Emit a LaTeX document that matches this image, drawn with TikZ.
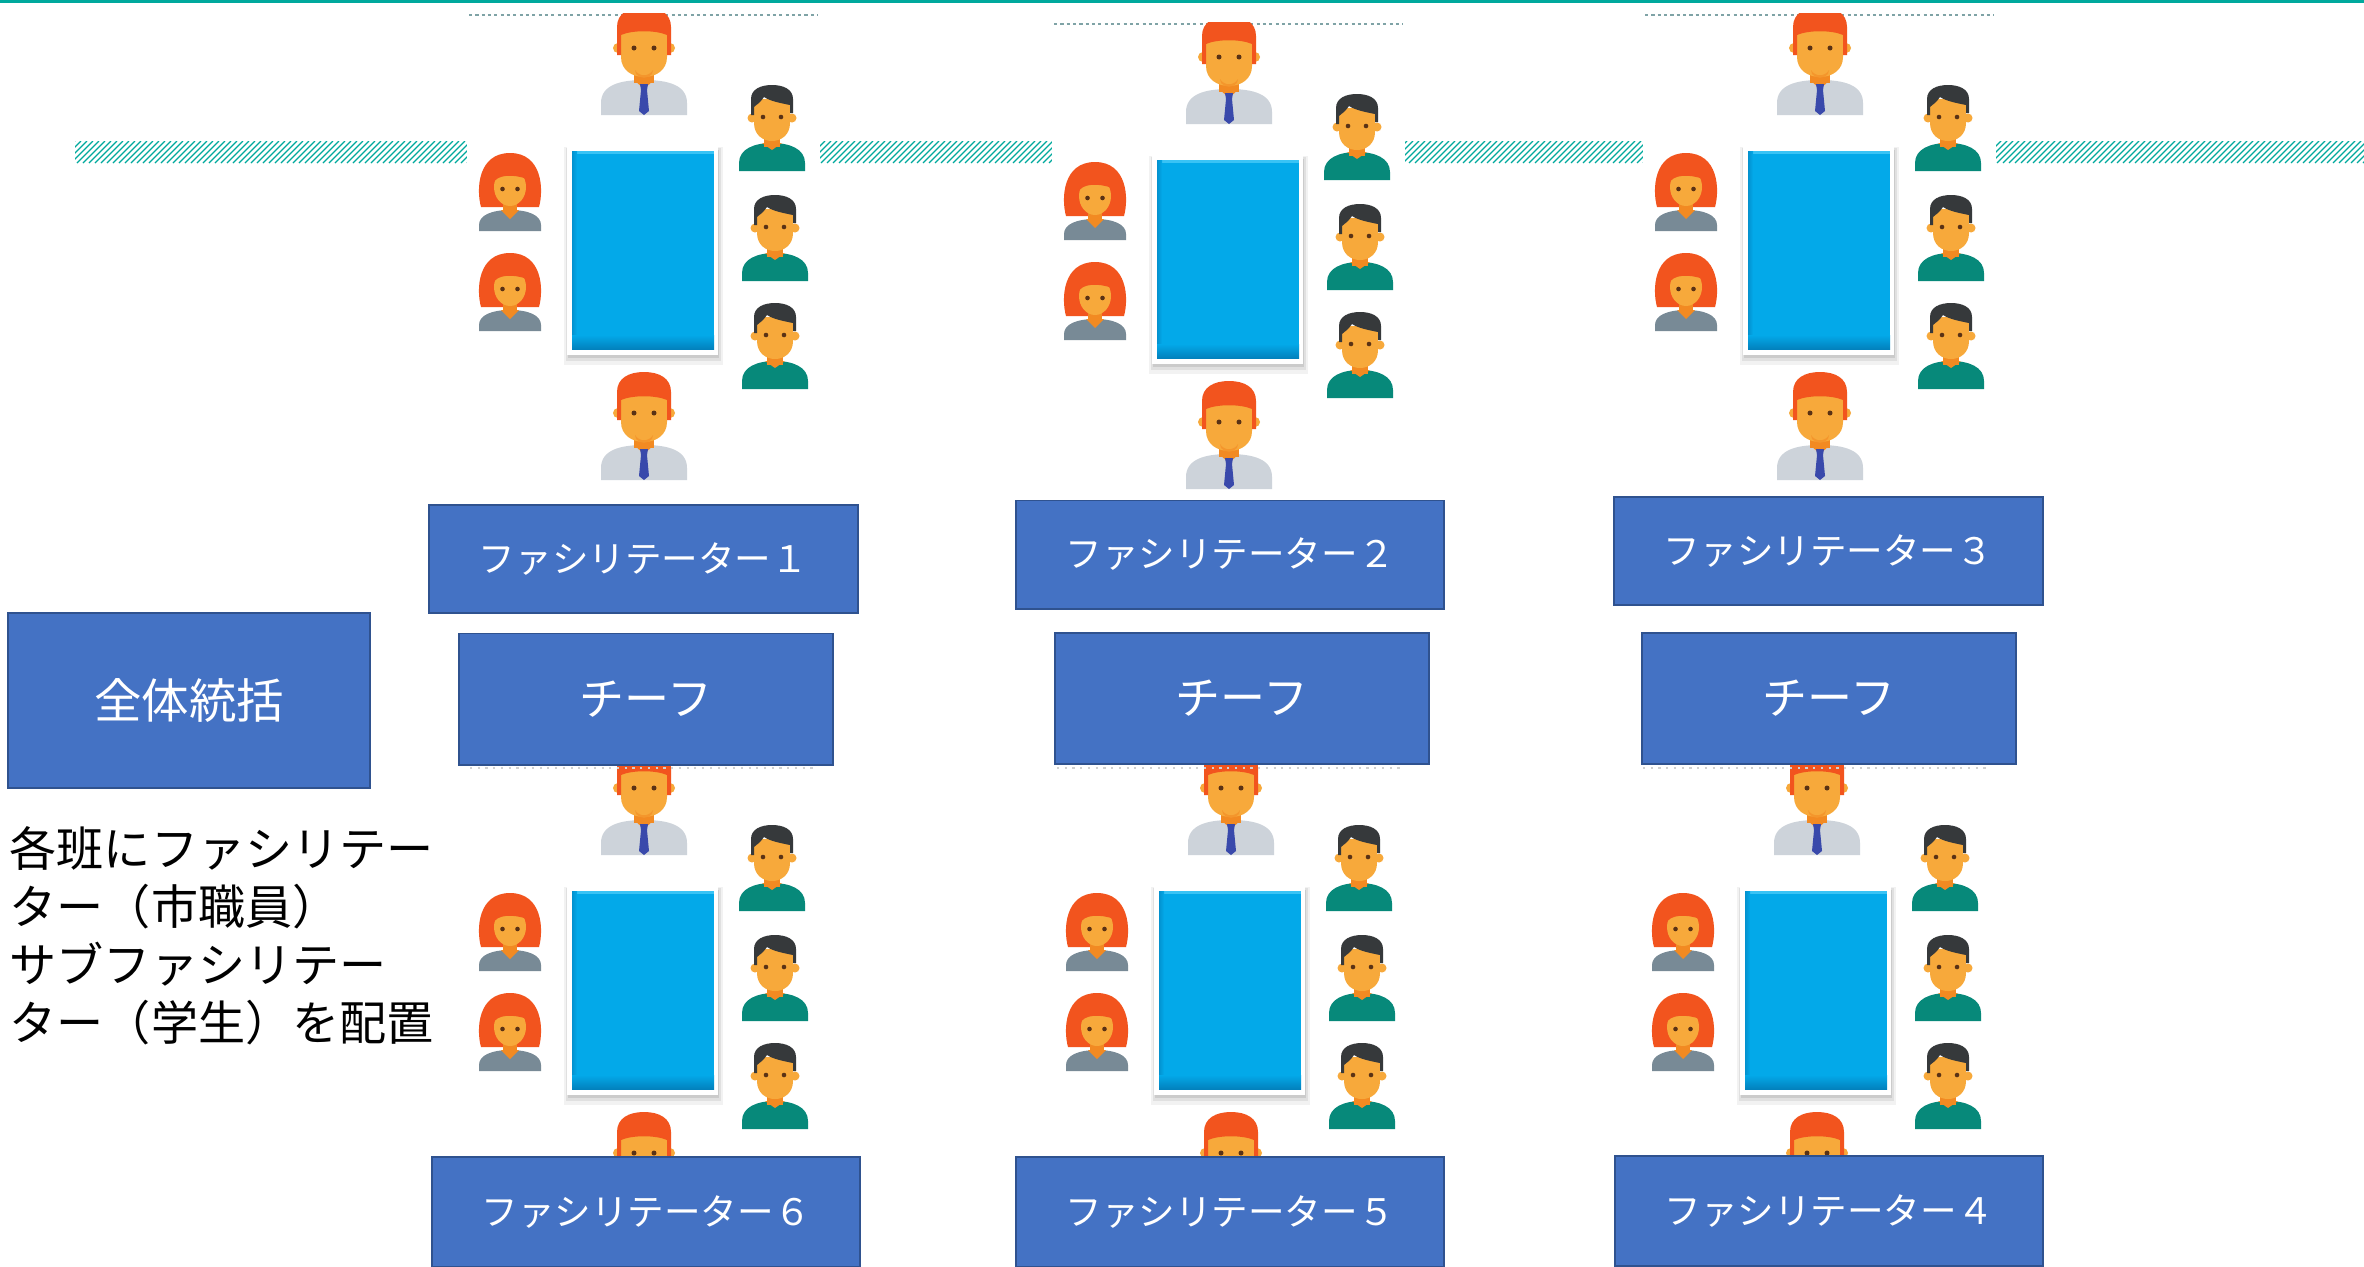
\documentclass[tikz,border=0pt]{standalone}
\usepackage{fontspec}
\setmainfont{Noto Sans CJK JP}
\definecolor{teal1}{HTML}{00A99D}
\definecolor{boxblue}{HTML}{4472C4}
\definecolor{boxedge}{HTML}{2F528F}
\definecolor{tableblue}{HTML}{03A9E9}
\definecolor{tabledark}{HTML}{0281BD}
\definecolor{tablelight}{HTML}{39C3F5}
\definecolor{skin}{HTML}{F7A93B}
\definecolor{skindark}{HTML}{F28A22}
\definecolor{hairred}{HTML}{F2541E}
\definecolor{shirt}{HTML}{CDD3DA}
\definecolor{tiecol}{HTML}{3949AB}
\definecolor{gown}{HTML}{788A96}
\definecolor{tealshirt}{HTML}{07897A}
\definecolor{darkhair}{HTML}{36393B}
\definecolor{eyecol}{HTML}{5A3215}
\definecolor{dashgray}{HTML}{7FA3A6}
\tikzset{
  hatchline/.style={teal1, line width=0.38pt},
  imgedge/.style={dashgray, line width=0.45pt, dash pattern=on 0.9pt off 0.9pt},
  imgedgefaint/.style={black!18, line width=0.4pt, dash pattern=on 0.6pt off 1.6pt},
  orgbox/.style={rectangle, fill=boxblue, draw=boxedge, line width=0.55pt,
    text=white, inner sep=0pt},
  facbox/.style={orgbox, minimum width=4.28cm, minimum height=1.08cm,
    font=\fontsize{10.4pt}{12pt}\selectfont},
  chiefbox/.style={orgbox, minimum width=3.74cm, minimum height=1.31cm,
    font=\fontsize{12.8pt}{15pt}\selectfont},
  % seated man with tie (facilitator)
  man/.pic={
    \fill[shirt] (-43,108) -- (-43,96) .. controls (-43,78) and (-24,73) .. (0,73)
      .. controls (24,73) and (43,78) .. (43,96) -- (43,108) -- cycle;
    \fill[skindark] (-10,55) rectangle (10,76);
    \fill[skindark] (-10,73) -- (0,82) -- (10,73) -- cycle;
    \fill[tiecol] (-4,77) -- (4,77) -- (3,83) -- (5,104) -- (0,108) -- (-5,104) -- (-3,83) -- cycle;
    \fill[skin] (-26,41) ellipse (5 and 5);
    \fill[skin] (26,41) ellipse (5 and 5);
    \fill[skin] (-23,22) -- (-23,50) .. controls (-23,63) and (-12,70) .. (0,70)
      .. controls (12,70) and (23,63) .. (23,50) -- (23,22) -- cycle;
    \fill[skindark!60!skin] (-9,63) .. controls (-5,70) and (5,70) .. (9,63)
      -- (8,67) .. controls (4,72) and (-4,72) .. (-8,67) -- cycle;
    \fill[hairred] (-27,48) -- (-27,20) .. controls (-27,6) and (-15,0) .. (0,0)
      .. controls (15,0) and (27,6) .. (27,20) -- (27,48) -- (23,48) -- (23,28)
      .. controls (12,23) and (-12,23) .. (-23,28) -- (-23,48) -- cycle;
    \fill[eyecol] (-10,41) ellipse (2.5 and 2.5);
    \fill[eyecol] (10,41) ellipse (2.5 and 2.5);
  },
  % woman with bob hair
  woman/.pic={
    \fill[hairred] (-29,54) .. controls (-34,36) and (-32,0) .. (0,0)
      .. controls (32,0) and (34,36) .. (29,54) -- cycle;
    \fill[skindark] (-7,44) rectangle (7,62);
    \fill[gown] (-31,78) -- (-31,72) .. controls (-31,62) and (-18,57) .. (0,57)
      .. controls (18,57) and (31,62) .. (31,72) -- (31,78) -- cycle;
    \fill[skindark] (-9,57) -- (0,66) -- (9,57) -- cycle;
    \fill[skin] (0,34) ellipse (16 and 19);
    \fill[hairred] (-17,31) .. controls (-14,21) and (4,21) .. (17,26) -- (17,12) -- (-17,12) -- cycle;
    \fill[eyecol] (-7.5,36) ellipse (2.3 and 2.3);
    \fill[eyecol] (7.5,36) ellipse (2.3 and 2.3);
  },
  % young man in teal shirt
  boy/.pic={
    \fill[tealshirt] (-33,86) -- (-33,78) .. controls (-33,64) and (-18,58) .. (0,58)
      .. controls (18,58) and (33,64) .. (33,78) -- (33,86) -- cycle;
    \fill[skindark] (-8,46) rectangle (8,62);
    \fill[skindark] (-10,58) -- (0,65) -- (10,58) -- cycle;
    \fill[skin] (-20,33) ellipse (4.5 and 4.5);
    \fill[skin] (20,33) ellipse (4.5 and 4.5);
    \fill[skin] (-18,14) -- (-18,38) .. controls (-18,50) and (-9,56) .. (0,56)
      .. controls (9,56) and (18,50) .. (18,38) -- (18,14) -- cycle;
    \fill[darkhair] (-21,30) -- (-21,14) .. controls (-21,4) and (-11,0) .. (0,0)
      .. controls (11,0) and (21,4) .. (21,14) -- (21,28) -- (18,28) -- (18,20)
      .. controls (8,18) and (-2,16) .. (-8,12) .. controls (-12,18) and (-16,20) .. (-18,22)
      -- (-18,30) -- cycle;
    \fill[eyecol] (-9,32) ellipse (2.3 and 2.3);
    \fill[eyecol] (9,32) ellipse (2.3 and 2.3);
  },
  % blue table with white rim and soft shadow
  meetingtable/.pic={
    \fill[black, opacity=0.05] (-3,2) rectangle (156,220);
    \fill[black, opacity=0.07] (-1,3) rectangle (154,216);
    \fill[black, opacity=0.09] (1,5) rectangle (152,213);
    \fill[white] (0,0) rectangle (151,210);
    \fill[tableblue] (5,6) rectangle (147,204);
    \fill[tablelight] (5,6) rectangle (147,9);
    \shade[left color=tabledark!60!tableblue, right color=tableblue] (5,6) rectangle (10,204);
    \shade[top color=tableblue, bottom color=tabledark] (5,190) rectangle (147,204);
  },
  % one group: table, eight people, white backdrop
  tablegroup/.pic={
    \fill[white] (0,0) rectangle (353,482);
    \draw[imgedge] (2,2) -- (351,2);
    \begin{scope}
      \clip (0,0) rectangle (353,482);
      \pic at (100,132) {meetingtable};
      \pic at (177,-6) {man};
      \pic at (43,140) {woman};
      \pic at (43,240) {woman};
      \pic at (305,72) {boy};
      \pic at (308,182) {boy};
      \pic at (308,290) {boy};
      \pic at (177,359) {man};
    \end{scope}
  },
}
\begin{document}
\begin{tikzpicture}[x=0.01cm,y=-0.01cm]
  \useasboundingbox (0,0) rectangle (2364,1266);
  \clip (0,0) rectangle (2364,1266);
  \fill[white] (0,0) rectangle (2364,1266);

  % top rule
  \fill[teal1] (0,0) rectangle (2364,3);

  % hatched band behind the top tables
  \begin{scope}
    \clip (75,141) rectangle (2364,163);
    \foreach \i in {0,...,390} {
      \draw[hatchline] ({53+6*\i},163) -- ({75+6*\i},141);
    }
  \end{scope}

  % tables, upper row
  \pic at (467,13) {tablegroup};
  \pic at (1052,22) {tablegroup};
  \pic at (1643,13) {tablegroup};

  % tables, lower row
  \pic at (467,753) {tablegroup};
  \pic at (1054,753) {tablegroup};
  \pic at (1640,753) {tablegroup};
  \draw[imgedgefaint] (470,768) -- (818,768);
  \draw[imgedgefaint] (1057,768) -- (1405,768);
  \draw[imgedgefaint] (1643,768) -- (1991,768);

  % facilitators, upper row
  \node[facbox] (f1) at (643.5,559) {ファシリテーター１};
  \node[facbox] (f2) at (1230,554.5) {ファシリテーター２};
  \node[facbox] (f3) at (1828.5,551) {ファシリテーター３};

  % chiefs
  \node[chiefbox] (c1) at (646,699) {チーフ};
  \node[chiefbox] (c2) at (1242,698.5) {チーフ};
  \node[chiefbox] (c3) at (1829,698.5) {チーフ};

  % facilitators, lower row
  \node[facbox, minimum height=1.10cm] (f6) at (646,1212) {ファシリテーター６};
  \node[facbox, minimum height=1.10cm] (f5) at (1230,1212) {ファシリテーター５};
  \node[facbox, minimum height=1.10cm] (f4) at (1829,1211) {ファシリテーター４};

  % overall lead
  \node[orgbox, minimum width=3.62cm, minimum height=1.75cm,
        font=\fontsize{13.5pt}{16pt}\selectfont] (lead) at (189,700.5) {全体統括};

  % note
  \node[anchor=north west, inner sep=0pt, align=left,
        font=\fontsize{13.4pt}{16.5pt}\selectfont] (note) at (9,826)
    {各班にファシリテー\\ター（市職員）\\サブファシリテー\\ター（学生）を配置};
\end{tikzpicture}
\end{document}
